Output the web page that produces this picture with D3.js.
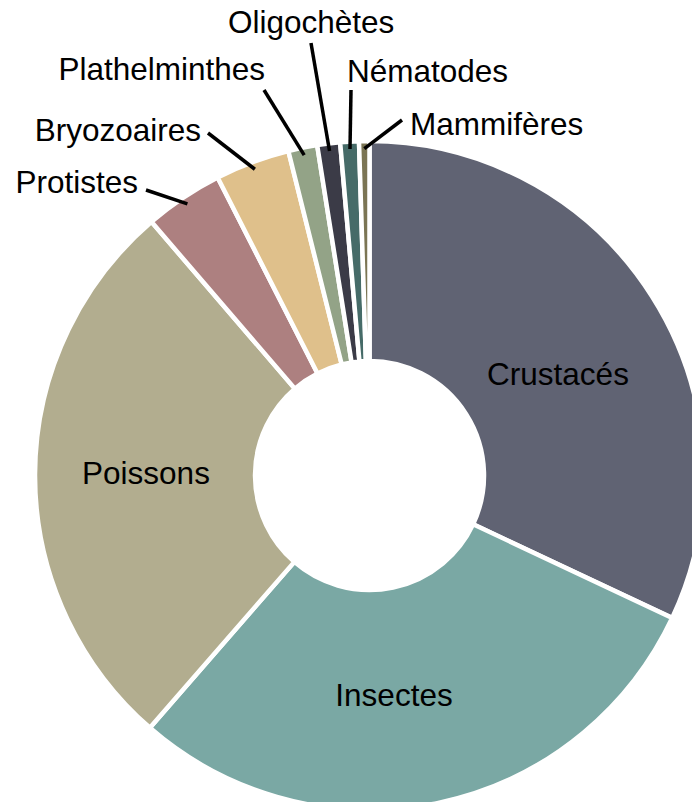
<!DOCTYPE html>
<html>
<head>
<meta charset="utf-8">
<script src="https://cdn.jsdelivr.net/npm/d3@7"></script>
<style>
  body { margin: 0; background: #fff; }
  text { font-family: "Liberation Sans", Arial, Helvetica, sans-serif; fill: #000; }
</style>
</head>
<body>
<div id="chart"></div>
<script>
// Share of species per group (percent)
var categories = ["Crustacés", "Insectes", "Poissons", "Protistes", "Bryozoaires",
                  "Plathelminthes", "Oligochètes", "Nématodes", "Mammifères"];
var shares = [32.0, 29.4, 27.3, 3.8, 3.6, 1.4, 1.1, 0.9, 0.5];
var colors = ["#606373", "#7aa8a4", "#b2ad8f", "#ad8080", "#dfc08b",
              "#93a387", "#3b3b47", "#466b68", "#7b7554"];

// Big slices get their name inside, small ones get a leader line
var insideLabels = {
  "Crustacés": [558, 385],
  "Insectes": [394, 706],
  "Poissons": [146, 484]
};
// label anchor point (x, baseline), text-anchor, and where the leader starts
var outsideLabels = {
  "Protistes":      { x: 138, y: 193, anchor: "end",   lx: 146, ly: 190 },
  "Bryozoaires":    { x: 201, y: 141, anchor: "end",   lx: 208, ly: 133 },
  "Plathelminthes": { x: 265, y: 80,  anchor: "end",   lx: 264, ly: 90 },
  "Oligochètes":    { x: 228, y: 33,  anchor: "start", lx: 311, ly: 43 },
  "Nématodes":      { x: 347, y: 82,  anchor: "start", lx: 351, ly: 90 },
  "Mammifères":     { x: 410, y: 135, anchor: "start", lx: 402, ly: 120 }
};

var width = 692, height = 802;
var cx = 369.5, cy = 475.5;
var outerR = 334.5, innerR = 114.5, leaderR = 327;

var data = categories.map(function (c, i) {
  return { name: c, value: shares[i], color: colors[i] };
});

var svg = d3.select("#chart").append("svg")
  .attr("width", width)
  .attr("height", height);

var g = svg.append("g").attr("transform", "translate(" + cx + "," + cy + ")");

var pie = d3.pie().sort(null).value(function (d) { return d.value; });
var arc = d3.arc().innerRadius(innerR).outerRadius(outerR);
var arcs = pie(data);

g.selectAll("path.slice")
  .data(arcs)
  .enter()
  .append("path")
    .attr("class", "slice")
    .attr("d", arc)
    .attr("fill", function (d) { return d.data.color; })
    .attr("stroke", "#fff")
    .attr("stroke-width", 4.5)
    .attr("stroke-linejoin", "miter");

// names inside the three large slices
svg.selectAll("text.inside")
  .data(arcs.filter(function (d) { return insideLabels[d.data.name]; }))
  .enter()
  .append("text")
    .attr("class", "inside")
    .attr("x", function (d) { return insideLabels[d.data.name][0]; })
    .attr("y", function (d) { return insideLabels[d.data.name][1]; })
    .attr("text-anchor", "middle")
    .style("font-size", "31.5px")
    .text(function (d) { return d.data.name; });

// leader lines + names for the small slices
var small = arcs.filter(function (d) { return outsideLabels[d.data.name]; });

svg.selectAll("line.leader")
  .data(small)
  .enter()
  .append("line")
    .attr("class", "leader")
    .attr("x1", function (d) { return outsideLabels[d.data.name].lx; })
    .attr("y1", function (d) { return outsideLabels[d.data.name].ly; })
    .attr("x2", function (d) {
      var a = (d.startAngle + d.endAngle) / 2;
      return cx + leaderR * Math.sin(a);
    })
    .attr("y2", function (d) {
      var a = (d.startAngle + d.endAngle) / 2;
      return cy - leaderR * Math.cos(a);
    })
    .attr("stroke", "#000")
    .attr("stroke-width", 3.5);

svg.selectAll("text.outside")
  .data(small)
  .enter()
  .append("text")
    .attr("class", "outside")
    .attr("x", function (d) { return outsideLabels[d.data.name].x; })
    .attr("y", function (d) { return outsideLabels[d.data.name].y; })
    .attr("text-anchor", function (d) { return outsideLabels[d.data.name].anchor; })
    .style("font-size", "31.5px")
    .text(function (d) { return d.data.name; });
</script>
</body>
</html>
